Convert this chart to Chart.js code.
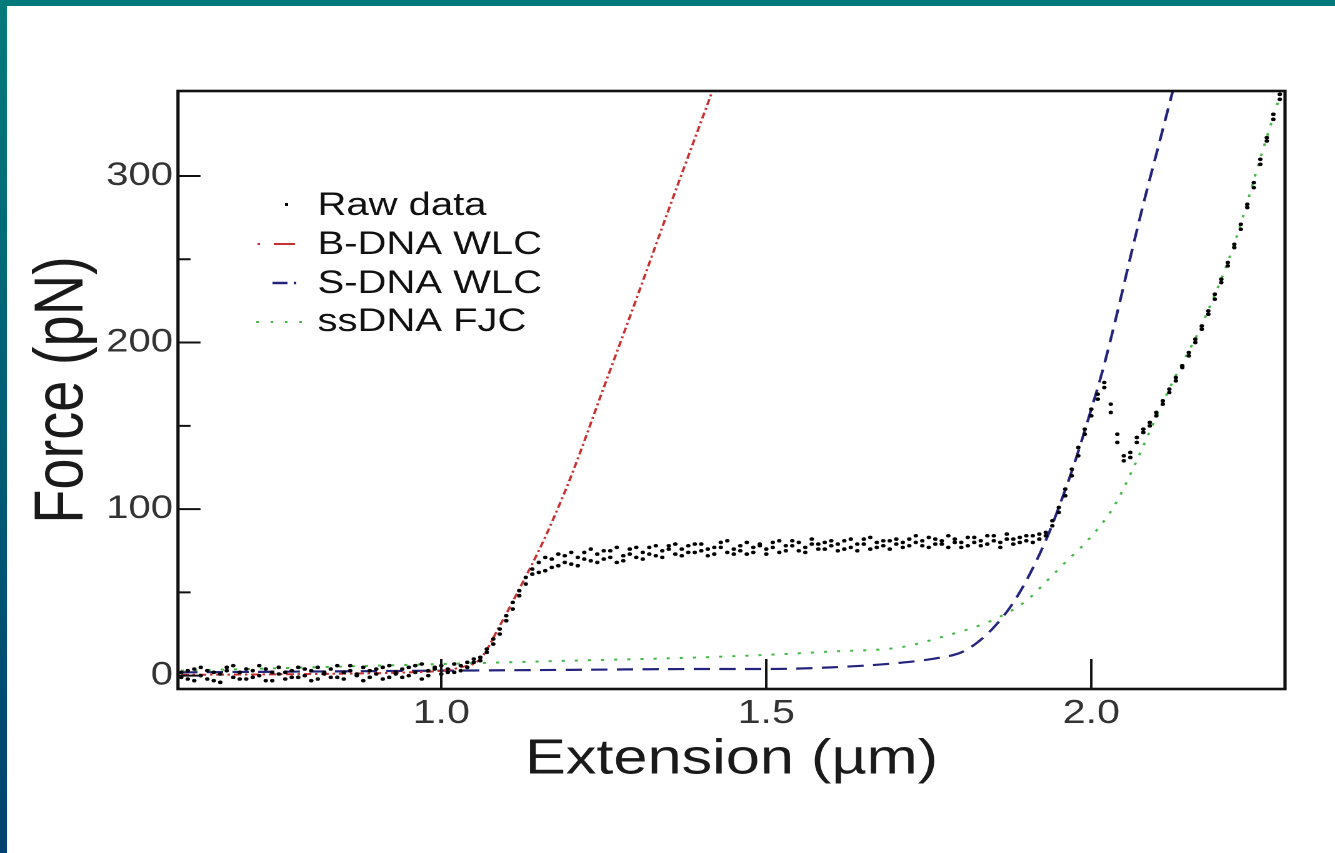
<!DOCTYPE html>
<html>
<head>
<meta charset="utf-8">
<script src="https://cdn.jsdelivr.net/npm/chart.js@4"></script>
<style>
  html, body { margin: 0; padding: 0; background: #fff; overflow: hidden; }
  #topBar { position: absolute; left: 0; top: 0; width: 1335px; height: 6px; background: #007a7b; }
  #leftBar { position: absolute; left: 0; top: 0; width: 7px; height: 853px; background: linear-gradient(#007a7b, #00426f); }
  /* the original figure is stretched sideways, so the canvas is too */
  #chart { position: absolute; left: 0; top: 0; transform: scaleX(1.25); transform-origin: 0 0; }
</style>
</head>
<body>
<div id="topBar"></div>
<div id="leftBar"></div>
<canvas id="chart" width="1068" height="853"></canvas>
<script>
// raw force-extension trace (two passes sampled at the same extensions)
const rawExt = [
  0.60, 0.61, 0.62, 0.63, 0.64, 0.65, 0.66, 0.67, 0.68, 0.69,
  0.70, 0.71, 0.72, 0.73, 0.74, 0.75, 0.76, 0.77, 0.78, 0.79,
  0.80, 0.81, 0.82, 0.83, 0.84, 0.85, 0.86, 0.87, 0.88, 0.89,
  0.90, 0.91, 0.92, 0.93, 0.94, 0.95, 0.96, 0.97, 0.98, 0.99,
  1.00, 1.01, 1.02, 1.03, 1.04, 1.05, 1.06, 1.07, 1.08, 1.09,
  1.10, 1.11, 1.12, 1.13, 1.14, 1.15, 1.16, 1.17, 1.18, 1.19,
  1.20, 1.21, 1.22, 1.23, 1.24, 1.25, 1.26, 1.27, 1.28, 1.29,
  1.30, 1.31, 1.32, 1.33, 1.34, 1.35, 1.36, 1.37, 1.38, 1.39,
  1.40, 1.41, 1.42, 1.43, 1.44, 1.45, 1.46, 1.47, 1.48, 1.49,
  1.50, 1.51, 1.52, 1.53, 1.54, 1.55, 1.56, 1.57, 1.58, 1.59,
  1.60, 1.61, 1.62, 1.63, 1.64, 1.65, 1.66, 1.67, 1.68, 1.69,
  1.70, 1.71, 1.72, 1.73, 1.74, 1.75, 1.76, 1.77, 1.78, 1.79,
  1.80, 1.81, 1.82, 1.83, 1.84, 1.85, 1.86, 1.87, 1.88, 1.89,
  1.90, 1.91, 1.92, 1.93, 1.94, 1.95, 1.96, 1.97, 1.98, 1.99,
  2.00, 2.01, 2.02, 2.03, 2.04, 2.05, 2.06, 2.07, 2.08, 2.09,
  2.10, 2.11, 2.12, 2.13, 2.14, 2.15, 2.16, 2.17, 2.18, 2.19,
  2.20, 2.21, 2.22, 2.23, 2.24, 2.25, 2.26, 2.27, 2.28, 2.29
];
const rawForceA = [
  2, -2, 4, 0, 3, -3, 1, 5, -1, 2,
  -2, 3, 0, 4, -3, 1, 2, -1, 5, 0,
  3, -2, 1, 4, -1, 2, 6, 0, -3, 3,
  1, 5, -1, 2, 4, 0, 6, -2, 3, 5,
  1, 4, 2, 6, 5, 8, 11, 16, 22, 28,
  36, 44, 51, 59, 64, 68, 63, 70, 66, 72,
  67, 71, 74, 69, 73, 70, 75, 68, 72, 76,
  71, 74, 77, 72, 75, 78, 73, 76, 74, 79,
  75, 72, 77, 80, 74, 76, 78, 73, 77, 79,
  76, 80, 74, 78, 81, 75, 77, 79, 76, 80,
  78, 75, 81, 77, 79, 82, 76, 80, 78, 81,
  79, 77, 82, 80, 78, 83, 79, 81, 77, 82,
  80, 78, 83, 81, 79, 84, 80, 82, 79, 83,
  81, 84, 82, 86, 93, 101, 112, 124, 137, 148,
  160, 169, 176, 158, 140, 129, 134, 143, 148, 152,
  158, 165, 172, 179, 186, 194, 202, 210, 219, 229,
  238, 248, 259, 271, 283, 296, 310, 323, 337, 349
];
const rawForceB = [
  -1, 3, -3, 5, -2, 2, -4, 3, 6, -2,
  4, -1, 6, -3, 2, 5, -2, 3, -1, 4,
  -3, 5, 2, -1, 6, -2, 3, 1, 5, -1,
  4, -2, 6, 1, -1, 5, 2, 7, 0, 4,
  6, 2, 7, 3, 8, 10, 9, 14, 19, 25,
  33, 40, 48, 55, 61, 62, 71, 65, 73, 68,
  74, 66, 70, 76, 68, 75, 71, 77, 69, 73,
  77, 70, 73, 78, 71, 76, 79, 72, 78, 74,
  79, 76, 73, 77, 81, 73, 75, 80, 74, 78,
  73, 77, 81, 75, 78, 80, 74, 82, 79, 76,
  81, 79, 76, 82, 75, 79, 83, 77, 81, 76,
  82, 80, 78, 84, 81, 77, 82, 79, 84, 80,
  77, 83, 80, 78, 84, 81, 77, 85, 82, 80,
  84, 80, 85, 84, 90, 98, 108, 120, 132, 145,
  156, 166, 173, 163, 145, 132, 131, 140, 146, 150,
  156, 163, 170, 177, 185, 192, 200, 208, 217, 226,
  236, 246, 257, 268, 281, 293, 307, 321, 334, 346
];

// model curves
const bdnaExt = [0.60, 0.80, 0.95, 1.00, 1.03, 1.06, 1.09, 1.12, 1.15, 1.17, 1.20, 1.25, 1.30, 1.35, 1.40, 1.42];
const bdnaForce = [0.5, 1, 2, 3, 5, 10, 30, 52, 75, 92, 120, 173, 226, 280, 333, 354];

const sdnaExt = [0.60, 0.80, 1.00, 1.20, 1.40, 1.50, 1.60, 1.70, 1.77, 1.80, 1.825, 1.85, 1.875, 1.90, 1.932, 1.95, 1.972, 2.00, 2.018, 2.04, 2.06, 2.08, 2.106, 2.13];
const sdnaForce = [2, 2.5, 3, 3.5, 4, 4, 5, 7.5, 11, 14, 20, 29, 41, 57, 83, 101, 125, 160, 184, 218, 251, 283, 322, 358];

const ssdnaExt = [0.60, 0.80, 1.00, 1.20, 1.40, 1.50, 1.60, 1.706, 1.768, 1.849, 1.90, 1.932, 1.96, 1.994, 2.034, 2.065, 2.095, 2.126, 2.168, 2.218, 2.265, 2.30];
const ssdnaForce = [3, 5, 7, 9, 11, 12.5, 14.5, 17, 23, 33.5, 45, 57, 68, 81, 101, 125, 151, 177, 209, 257, 317, 360];

// axes
const xTicks = [1.0, 1.5, 2.0];
const yTicks = [0, 100, 200, 300];
const yMinorTicks = [50, 150, 250];

const FONT = '"Liberation Sans", Arial, Helvetica, sans-serif';

const toPoints = (xs, ys) => xs.map((x, i) => ({ x: x, y: ys[i] }));

// box around the plot + ticks pointing inwards
const axisBox = {
    id: 'axisBox',
    afterDatasetsDraw(chart) {
        const { ctx, chartArea: a, scales: { x, y } } = chart;
        ctx.save();
        ctx.strokeStyle = '#111';
        ctx.lineWidth = 2.6;
        ctx.strokeRect(a.left, a.top, a.right - a.left, a.bottom - a.top);
        ctx.lineWidth = 2;
        ctx.beginPath();
        yTicks.forEach(v => {
            const py = y.getPixelForValue(v);
            ctx.moveTo(a.left, py);
            ctx.lineTo(a.left + 18, py);
        });
        yMinorTicks.forEach(v => {
            const py = y.getPixelForValue(v);
            ctx.moveTo(a.left, py);
            ctx.lineTo(a.left + 10, py);
        });
        xTicks.forEach(v => {
            const px = x.getPixelForValue(v);
            ctx.moveTo(px, a.bottom);
            ctx.lineTo(px, a.bottom - 30);
        });
        ctx.stroke();
        ctx.restore();
    }
};

// legend drawn inside the plot, like the original figure
const innerLegend = {
    id: 'innerLegend',
    afterDraw(chart) {
        const { ctx } = chart;
        const ds = chart.data.datasets;
        const rows = [
            { ds: ds[0], y: 206 },
            { ds: ds[2], y: 245 },
            { ds: ds[3], y: 284 },
            { ds: ds[4], y: 322 }
        ];
        ctx.save();
        ctx.font = '32px ' + FONT;
        ctx.fillStyle = '#111';
        ctx.textBaseline = 'middle';
        ctx.textAlign = 'left';
        rows.forEach(r => ctx.fillText(r.ds.label, 254, r.y));

        // Raw data: single dot
        ctx.fillStyle = '#000';
        ctx.fillRect(228, rows[0].y - 3, 2.5, 3);

        // B-DNA: dot then dash
        ctx.strokeStyle = ds[2].borderColor;
        ctx.lineWidth = 2;
        ctx.beginPath();
        ctx.moveTo(206, rows[1].y - 1); ctx.lineTo(208, rows[1].y - 1);
        ctx.moveTo(219, rows[1].y - 1); ctx.lineTo(236, rows[1].y - 1);
        ctx.stroke();

        // S-DNA: dash then dot
        ctx.strokeStyle = ds[3].borderColor;
        ctx.lineWidth = 2.4;
        ctx.beginPath();
        ctx.moveTo(218, rows[2].y - 1); ctx.lineTo(230, rows[2].y - 1);
        ctx.moveTo(235, rows[2].y - 1); ctx.lineTo(237, rows[2].y - 1);
        ctx.stroke();

        // ssDNA: dotted
        ctx.strokeStyle = ds[4].borderColor;
        ctx.lineWidth = 2;
        ctx.setLineDash([2, 9.5]);
        ctx.beginPath();
        ctx.moveTo(205, rows[3].y); ctx.lineTo(242, rows[3].y);
        ctx.stroke();
        ctx.restore();
    }
};

const canvas = document.getElementById('chart');
new Chart(canvas.getContext('2d'), {
    type: 'scatter',
    data: {
        datasets: [{
            label: 'Raw data',
            data: toPoints(rawExt, rawForceA),
            showLine: false,
            pointRadius: 1.8,
            pointBorderWidth: 0,
            pointBackgroundColor: '#000'
        }, {
            label: 'Raw data (second pass)',
            data: toPoints(rawExt, rawForceB),
            showLine: false,
            pointRadius: 1.8,
            pointBorderWidth: 0,
            pointBackgroundColor: '#000'
        }, {
            label: 'B-DNA WLC',
            data: toPoints(bdnaExt, bdnaForce),
            showLine: true,
            borderColor: '#c93030',
            borderWidth: 2,
            borderDash: [6, 3, 2, 3],
            pointRadius: 0,
            cubicInterpolationMode: 'monotone'
        }, {
            label: 'S-DNA WLC',
            data: toPoints(sdnaExt, sdnaForce),
            showLine: true,
            borderColor: '#24247e',
            borderWidth: 2.2,
            borderDash: [13, 7.5],
            pointRadius: 0,
            cubicInterpolationMode: 'monotone'
        }, {
            label: 'ssDNA FJC',
            data: toPoints(ssdnaExt, ssdnaForce),
            showLine: true,
            borderColor: '#46b846',
            borderWidth: 2,
            borderDash: [2.5, 8],
            pointRadius: 0,
            cubicInterpolationMode: 'monotone'
        }]
    },
    options: {
        responsive: false,
        animation: false,
        devicePixelRatio: 2,
        layout: { padding: { left: 0, top: 91, right: 40, bottom: 63.6 } },
        plugins: {
            legend: { display: false },
            tooltip: { enabled: false }
        },
        scales: {
            x: {
                type: 'linear',
                min: 0.595,
                max: 2.298,
                afterBuildTicks: s => { s.ticks = xTicks.map(v => ({ value: v })); },
                afterFit: s => { s.height = 100.4; },
                grid: { display: false, drawTicks: false },
                border: { display: false },
                ticks: {
                    padding: 5,
                    color: '#333',
                    font: { family: FONT, size: 33 },
                    callback: v => v.toFixed(1)
                },
                title: {
                    display: true,
                    text: 'Extension (µm)',
                    color: '#1a1a1a',
                    font: { family: FONT, size: 49 },
                    padding: 0
                }
            },
            y: {
                type: 'linear',
                min: -8,
                max: 351,
                afterBuildTicks: s => { s.ticks = yTicks.map(v => ({ value: v })); },
                afterFit: s => { s.width = 142.4; },
                grid: { display: false, drawTicks: false },
                border: { display: false },
                ticks: {
                    padding: 4,
                    color: '#333',
                    font: { family: FONT, size: 32 }
                },
                title: {
                    display: true,
                    text: 'Force (pN)',
                    color: '#1a1a1a',
                    font: { family: FONT, size: 56 },
                    padding: { top: 17, bottom: 0 }
                }
            }
        }
    },
    plugins: [axisBox, innerLegend]
});
</script>
</body>
</html>
